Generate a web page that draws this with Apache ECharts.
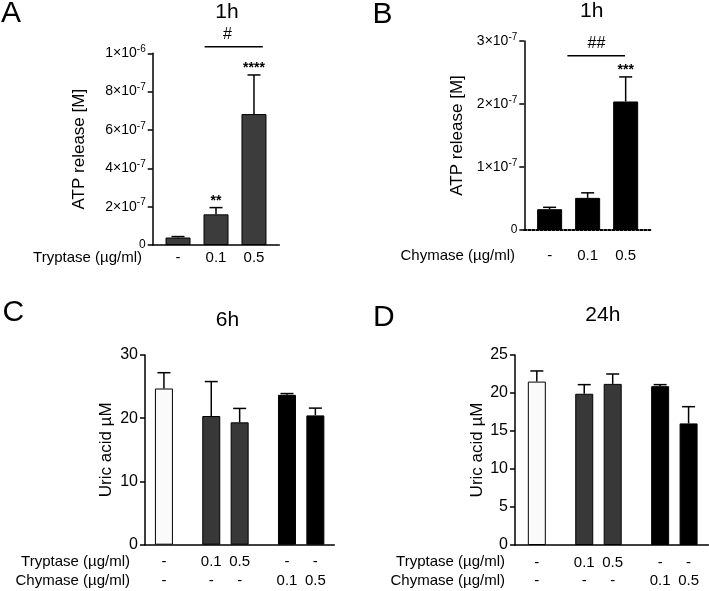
<!DOCTYPE html>
<html>
<head>
<meta charset="utf-8">
<title>ATP release / uric acid</title>
<script src="https://cdn.jsdelivr.net/npm/echarts@6/dist/echarts.min.js"></script>
<style>
html,body{margin:0;padding:0;background:#fff;}
#chart{width:709px;height:591px;}
</style>
</head>
<body>
<div id="chart"></div>
<script>
// A / B : ATP release, 1h
var atpLabels=['-','0.1','0.5'];
var atpPos=[0,3,6];
var tryptaseAtp=[3.9e-8,1.60e-7,6.83e-7];
var tryptaseAtpSem=[0.5e-8,0.35e-7,2.04e-7];
var tryptaseAtpStars=['','**','****'];
var chymaseAtp=[3.3e-8,5.1e-8,2.04e-7];
var chymaseAtpSem=[0.3e-8,0.8e-8,0.39e-7];
var chymaseAtpStars=['','','***'];
// bracket: [x from, x to, y, x of the # mark]
var tryptaseBracket=[2.1,6.7,1.034e-6,3.9];
var chymaseBracket=[1.4,5.95,2.767e-7,3.7];

// C / D : uric acid, 6h and 24h
var uricPos=[0,5,8,13,16];
var tryptaseRow=['-','0.1','0.5','-','-'];
var chymaseRow=['-','-','-','0.1','0.5'];
var uric6h=[24.7,20.35,19.35,23.7,20.45];
var uric6hSem=[2.5,5.45,2.2,0.2,1.15];
var uric24h=[21.5,19.9,21.2,20.9,16.0];
var uric24hSem=[1.4,1.2,1.3,0.2,2.2];

var FONT='"Liberation Sans",Arial,Helvetica,sans-serif';
var uricFills=['#fafafa','#383838','#383838','#000000','#000000'];

function pairs(pos,vals){
	var out=[];
	for(var i=0;i<pos.length;i++){
		out.push([pos[i],vals[i]]);
	}
	return out;
}
function errPoints(pos,vals,sem){
	var out=[];
	for(var i=0;i<pos.length;i++){
		out.push([pos[i],vals[i],sem[i]]);
	}
	return out;
}
function sciLabel(v){
	if(v===0)return '0';
	var e=Math.floor(Math.log10(v)+1e-9);
	var m=Math.round(v/Math.pow(10,e));
	if(m>=10){m=m/10;e=e+1;}
	return '{m|'+m+'×10}{e|'+e+'}';
}
function lookup(pos,labels){
	return function(v){
		for(var i=0;i<pos.length;i++){
			if(Math.abs(pos[i]-v)<1e-6)return labels[i];
		}
		return '';
	};
}
// error bar (upper half only) + optional significance stars
function errRender(stars){
	return function(params,api){
		var x=api.value(0),m=api.value(1),s=api.value(2);
		var base=api.coord([x,m]);
		var top=api.coord([x,m+s]);
		var kids=[
			{type:'line',shape:{x1:top[0],y1:base[1],x2:top[0],y2:top[1]},style:{stroke:'#000',lineWidth:1.5}},
			{type:'line',shape:{x1:top[0]-6.5,y1:top[1],x2:top[0]+6.5,y2:top[1]},style:{stroke:'#000',lineWidth:1.5}}
		];
		var st=stars?stars[params.dataIndex]:'';
		if(st){
			kids.push({type:'text',x:top[0],y:top[1]-6.5,style:{text:st,font:'bold 14px '+FONT,fill:'#000',textAlign:'center',textVerticalAlign:'middle',align:'center',verticalAlign:'middle'}});
		}
		return {type:'group',children:kids};
	};
}
function bracketRender(mark){
	return function(params,api){
		var p1=api.coord([api.value(0),api.value(2)]);
		var p2=api.coord([api.value(1),api.value(2)]);
		var pt=api.coord([api.value(3),api.value(2)]);
		return {type:'group',children:[
			{type:'line',shape:{x1:p1[0],y1:p1[1],x2:p2[0],y2:p2[1]},style:{stroke:'#000',lineWidth:1.5}},
			{type:'text',x:pt[0],y:pt[1]-12.5,style:{text:mark,font:'16px '+FONT,fill:'#000',textAlign:'center',textVerticalAlign:'middle',align:'center',verticalAlign:'middle'}}
		]};
	};
}

function xAxisOf(grid,min,max,pos,labels,margin,opt){
	var ax={
		type:'value',gridIndex:grid,min:min,max:max,position:'bottom',
		axisLine:{show:true,onZero:false,lineStyle:{color:'#000',width:1.5}},
		axisTick:{show:false},
		splitLine:{show:false},
		axisLabel:{customValues:pos,formatter:lookup(pos,labels),color:'#000',fontSize:15,fontFamily:FONT,margin:margin}
	};
	for(var k in opt){ax[k]=opt[k];}
	return ax;
}
function yAxisOf(grid,min,max,interval,name,gap,nameSize,label){
	return {
		type:'value',gridIndex:grid,min:min,max:max,interval:interval,position:'left',
		name:name,nameLocation:'middle',nameGap:gap,
		nameTextStyle:{color:'#000',fontSize:nameSize,fontFamily:FONT},
		axisLine:{show:true,onZero:false,lineStyle:{color:'#000',width:1.5}},
		axisTick:{show:true,length:5,lineStyle:{color:'#000',width:1.5}},
		splitLine:{show:false},
		axisLabel:label
	};
}
function txt(s,x,y,size,align){
	return {type:'text',x:x,y:y,style:{text:s,font:size+'px '+FONT,fill:'#000',
		textAlign:align,textVerticalAlign:'middle',align:align,verticalAlign:'middle'}};
}

var sciAxisLabel={
	formatter:sciLabel,margin:7,color:'#000',fontFamily:FONT,
	rich:{
		m:{fontSize:14,lineHeight:18,color:'#000',fontFamily:FONT},
		e:{fontSize:10,lineHeight:10,verticalAlign:'top',color:'#000',fontFamily:FONT}
	}
};
var uricAxisLabel={margin:7,color:'#000',fontSize:16,fontFamily:FONT};

var chart=echarts.init(document.getElementById('chart'));
var option={
	animation:false,
	backgroundColor:'#fff',
	textStyle:{fontFamily:FONT,color:'#000'},
	grid:[
		{left:152.7,top:53.3,width:126.6,height:191.7},
		{left:524.3,top:41,width:126.7,height:189},
		{left:145,top:355,width:189.3,height:189.7},
		{left:515,top:355,width:193.5,height:190}
	],
	xAxis:[
		xAxisOf(0,-2,8,atpPos,atpLabels,5.5,{}),
		xAxisOf(1,-2,8,atpPos,atpLabels,18.5,{axisLine:{show:true,onZero:false,lineStyle:{color:'#000',width:2,type:'dotted'}}}),
		xAxisOf(2,-2,18,uricPos,tryptaseRow,10,{}),
		xAxisOf(2,-2,18,uricPos,chymaseRow,10,{offset:18.4,axisLine:{show:false}}),
		xAxisOf(3,-2.3,18.1,uricPos,tryptaseRow,10,{}),
		xAxisOf(3,-2.3,18.1,uricPos,chymaseRow,10,{offset:18.4,axisLine:{show:false}})
	],
	yAxis:[
		yAxisOf(0,0,1e-6,2e-7,'ATP release [M]',65,17,sciAxisLabel),
		yAxisOf(1,0,3e-7,1e-7,'ATP release [M]',58,17,sciAxisLabel),
		yAxisOf(2,0,30,10,'Uric acid µM',30,17,uricAxisLabel),
		yAxisOf(3,0,25,5,'Uric acid µM',27,17,uricAxisLabel)
	],
	series:[
		{type:'bar',xAxisIndex:0,yAxisIndex:0,barWidth:25,data:pairs(atpPos,tryptaseAtp),
			itemStyle:{color:'#3c3c3c',borderColor:'#000',borderWidth:1}},
		{type:'custom',xAxisIndex:0,yAxisIndex:0,z:3,encode:{x:0,y:1},
			data:errPoints(atpPos,tryptaseAtp,tryptaseAtpSem),renderItem:errRender(tryptaseAtpStars)},
		{type:'custom',xAxisIndex:0,yAxisIndex:0,z:3,encode:{x:0,y:2},clip:false,
			data:[tryptaseBracket],renderItem:bracketRender('#')},

		{type:'bar',xAxisIndex:1,yAxisIndex:1,barWidth:25,data:pairs(atpPos,chymaseAtp),
			itemStyle:{color:'#000',borderColor:'#000',borderWidth:1}},
		{type:'custom',xAxisIndex:1,yAxisIndex:1,z:3,encode:{x:0,y:1},
			data:errPoints(atpPos,chymaseAtp,chymaseAtpSem),renderItem:errRender(chymaseAtpStars)},
		{type:'custom',xAxisIndex:1,yAxisIndex:1,z:3,encode:{x:0,y:2},clip:false,
			data:[chymaseBracket],renderItem:bracketRender('##')},

		{type:'bar',xAxisIndex:2,yAxisIndex:2,barWidth:18,data:pairs(uricPos,uric6h),
			itemStyle:{color:function(p){return uricFills[p.dataIndex];},borderColor:'#000',borderWidth:1}},
		{type:'custom',xAxisIndex:2,yAxisIndex:2,z:3,encode:{x:0,y:1},
			data:errPoints(uricPos,uric6h,uric6hSem),renderItem:errRender(null)},

		{type:'bar',xAxisIndex:4,yAxisIndex:3,barWidth:18,data:pairs(uricPos,uric24h),
			itemStyle:{color:function(p){return uricFills[p.dataIndex];},borderColor:'#000',borderWidth:1}},
		{type:'custom',xAxisIndex:4,yAxisIndex:3,z:3,encode:{x:0,y:1},
			data:errPoints(uricPos,uric24h,uric24hSem),renderItem:errRender(null)}
	],
	graphic:[
		txt('A',1,14,30,'left'),
		txt('B',372.5,15,30,'left'),
		txt('C',2.5,312.5,30,'left'),
		txt('D',373,317.5,30,'left'),
		txt('1h',227,12,21,'center'),
		txt('1h',591.7,11.2,21,'center'),
		txt('6h',227.5,320,21,'center'),
		txt('24h',602.8,315,21,'center'),
		txt('Tryptase (µg/ml)',142,258,15,'right'),
		txt('Chymase (µg/ml)',515,256,15,'right'),
		txt('Tryptase (µg/ml)',130,562.3,15,'right'),
		txt('Chymase (µg/ml)',130,580.7,15,'right'),
		txt('Tryptase (µg/ml)',505,562.3,15,'right'),
		txt('Chymase (µg/ml)',505,580.7,15,'right')
	]
};
chart.setOption(option);
</script>
</body>
</html>
